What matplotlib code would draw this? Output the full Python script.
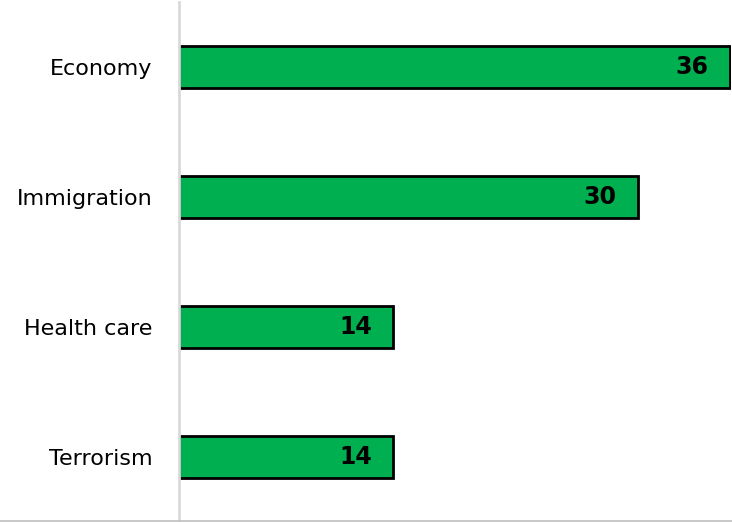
import matplotlib
matplotlib.use("Agg")
import matplotlib.pyplot as plt
from matplotlib.lines import Line2D

# Share of respondents naming each issue as most important
issues = ["Economy", "Immigration", "Health care", "Terrorism"]
shares = [36, 30, 14, 14]

bar_color = "#00b050"

fig = plt.figure(figsize=(7.32, 5.22), dpi=100)
ax = fig.add_axes([179 / 732, 0.0, 552 / 732, 520 / 522])

ypos = list(range(len(issues)))
ax.barh(ypos, shares, height=0.32, color=bar_color, edgecolor="black", linewidth=2)

for y, v in zip(ypos, shares):
    ax.annotate(str(v), xy=(v, y), xytext=(-15.5, 0), textcoords="offset points",
                ha="right", va="center", fontsize=17, fontweight="bold", color="black")

ax.set_yticks(ypos)
ax.set_yticklabels(issues, fontsize=16)
ax.tick_params(axis="y", length=0, pad=19)
ax.set_ylim(len(issues) - 0.5, -0.5)
ax.set_xlim(0, 36.05)
ax.set_xticks([])

for side in ["top", "right", "bottom"]:
    ax.spines[side].set_visible(False)
ax.spines["left"].set_color("#d9d9d9")
ax.spines["left"].set_linewidth(2)

# thin border along the bottom of the chart area
fig.add_artist(Line2D([0, 1], [1.5 / 522, 1.5 / 522], color="#bfbfbf", linewidth=1.2,
                      transform=fig.transFigure))

fig.savefig("out.png", dpi=100)
